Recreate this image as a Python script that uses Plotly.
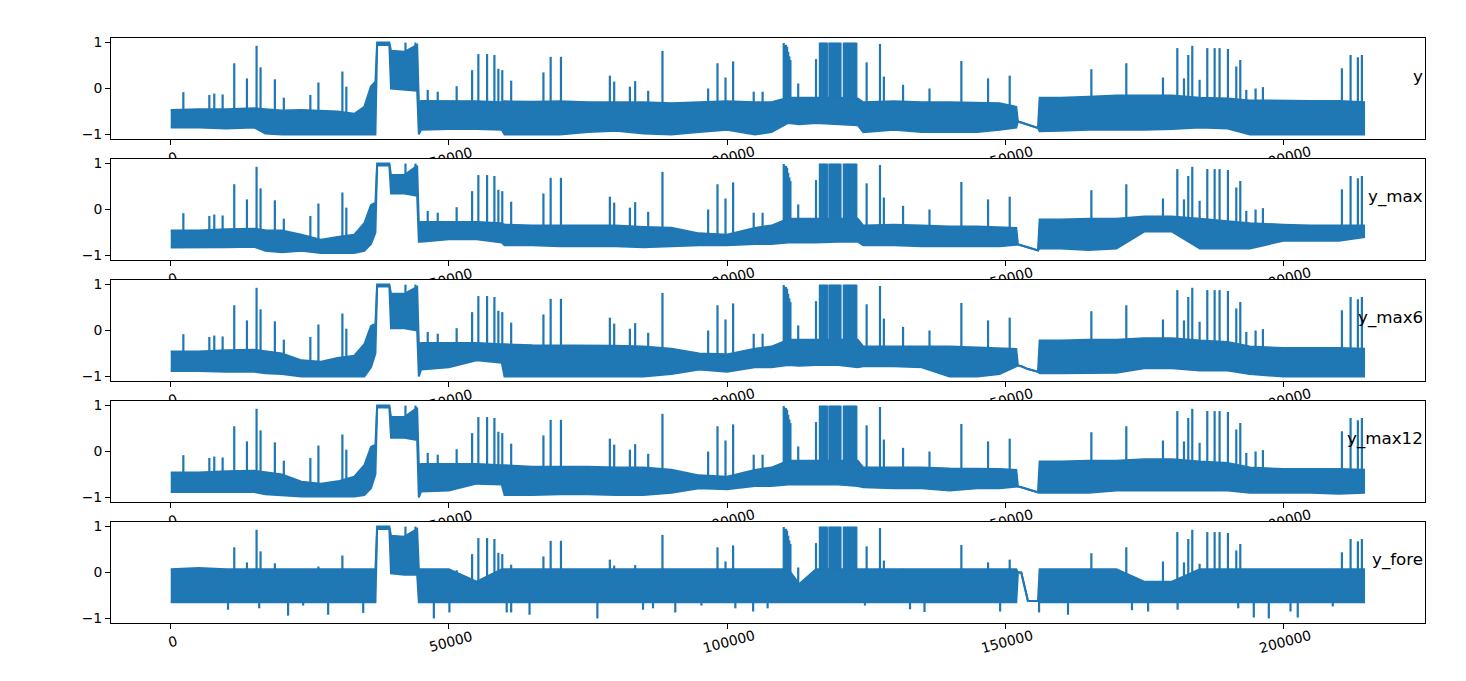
import numpy as np
import plotly.graph_objects as go

# ---------------- data ----------------
names = ["y", "y_max", "y_max6", "y_max12", "y_fore"]

grid_x = [0, 5000, 10000, 15000, 17000, 20000, 23500, 27000, 30000, 33000,
          34800, 36000, 36800, 37100, 39300, 39600, 42000, 44300, 44600, 45000,
          50000, 55000, 59500, 60000, 65000, 70000, 75000, 80000, 85000, 90000,
          95000, 100000, 105000, 108000, 111000, 113000, 116000, 120000, 123500, 124500,
          130000, 135000, 140000, 145000, 149000, 152000, 152300, 152900, 154100, 155900,
          156200, 160000, 165000, 170000, 175000, 180000, 185000, 190000, 194000, 200000,
          205000, 210000, 214700]

# lower / upper envelope of each dense series
y_low = [-0.85, -0.85, -0.87, -0.85, -0.98, -1.0, -1.0, -1.0, -1.0, -1.0,
         -1.0, -1.0, -1.0, 0.95, 0.95, 0.0, -0.02, -0.05, -1.0, -0.9,
         -0.88, -0.88, -0.9, -1.0, -1.0, -1.0, -0.95, -0.92, -0.98, -1.0,
         -0.95, -0.9, -1.0, -0.95, -0.75, -0.78, -0.75, -0.78, -0.8, -0.95,
         -0.9, -0.95, -0.95, -0.95, -0.9, -0.85, -0.72, -0.74, -0.79, -0.86,
         -0.93, -0.92, -0.9, -0.9, -0.9, -0.88, -0.85, -0.87, -1.0, -1.0,
         -1.0, -1.0, -1.0]
y_high = [-0.47, -0.45, -0.45, -0.43, -0.45, -0.48, -0.47, -0.48, -0.5, -0.55,
          -0.4, 0.05, 0.15, 1.0, 1.0, 0.82, 0.8, 0.95, -0.3, -0.27,
          -0.27, -0.28, -0.3, -0.28, -0.29, -0.28, -0.3, -0.3, -0.3, -0.32,
          -0.3, -0.28, -0.3, -0.3, -0.2, -0.2, -0.2, -0.2, -0.22, -0.3,
          -0.28, -0.3, -0.3, -0.32, -0.32, -0.4, -0.72, -0.74, -0.79, -0.86,
          -0.2, -0.2, -0.18, -0.15, -0.15, -0.15, -0.2, -0.22, -0.26, -0.27,
          -0.27, -0.27, -0.3]

y_max_low = [-0.83, -0.83, -0.82, -0.81, -0.9, -0.93, -0.9, -0.95, -0.95, -0.95,
             -0.9, -0.75, -0.5, 0.96, 0.96, 0.35, 0.35, 0.3, -0.7, -0.7,
             -0.65, -0.65, -0.72, -0.78, -0.78, -0.8, -0.8, -0.8, -0.82, -0.8,
             -0.78, -0.78, -0.75, -0.75, -0.72, -0.72, -0.72, -0.7, -0.7, -0.78,
             -0.78, -0.8, -0.8, -0.8, -0.8, -0.77, -0.76, -0.78, -0.83, -0.89,
             -0.85, -0.85, -0.88, -0.85, -0.48, -0.48, -0.85, -0.85, -0.85, -0.68,
             -0.68, -0.68, -0.6]
y_max_high = [-0.46, -0.46, -0.43, -0.42, -0.45, -0.46, -0.55, -0.66, -0.6, -0.55,
              -0.3, 0.1, 0.15, 1.0, 1.0, 0.75, 0.75, 0.95, -0.3, -0.27,
              -0.27, -0.27, -0.3, -0.33, -0.35, -0.35, -0.35, -0.35, -0.38, -0.4,
              -0.52, -0.55, -0.4, -0.35, -0.2, -0.2, -0.2, -0.2, -0.2, -0.35,
              -0.33, -0.35, -0.37, -0.37, -0.38, -0.4, -0.76, -0.78, -0.83, -0.89,
              -0.22, -0.22, -0.2, -0.2, -0.15, -0.15, -0.2, -0.25, -0.3, -0.33,
              -0.35, -0.35, -0.35]

y_max6_low = [-0.88, -0.88, -0.9, -0.9, -0.93, -0.95, -1.0, -1.0, -1.0, -1.0,
              -1.0, -0.8, -0.5, 0.96, 0.96, 0.05, 0.05, 0.0, -1.0, -0.85,
              -0.8, -0.65, -0.7, -1.0, -1.0, -1.0, -1.0, -1.0, -1.0, -0.95,
              -0.85, -0.9, -0.8, -0.8, -0.75, -0.77, -0.75, -0.75, -0.8, -0.78,
              -0.78, -0.8, -1.0, -1.0, -0.95, -0.78, -0.76, -0.78, -0.84, -0.9,
              -0.93, -0.93, -0.93, -0.92, -0.82, -0.82, -0.87, -0.87, -0.95, -1.0,
              -1.0, -1.0, -1.0]
y_max6_high = [-0.46, -0.46, -0.43, -0.42, -0.45, -0.5, -0.65, -0.68, -0.6, -0.55,
               -0.3, 0.1, 0.15, 1.0, 1.0, 0.8, 0.8, 0.95, -0.3, -0.27,
               -0.27, -0.27, -0.3, -0.3, -0.32, -0.32, -0.33, -0.33, -0.35, -0.4,
               -0.5, -0.52, -0.4, -0.35, -0.2, -0.2, -0.2, -0.2, -0.2, -0.35,
               -0.35, -0.35, -0.35, -0.37, -0.38, -0.4, -0.76, -0.78, -0.84, -0.9,
               -0.22, -0.22, -0.2, -0.2, -0.17, -0.17, -0.22, -0.25, -0.35, -0.38,
               -0.38, -0.38, -0.4]

y_max12_low = [-0.88, -0.88, -0.88, -0.88, -0.93, -0.95, -0.98, -0.98, -0.98, -0.98,
               -0.95, -0.8, -0.5, 0.96, 0.96, 0.3, 0.3, 0.25, -1.0, -0.87,
               -0.85, -0.7, -0.72, -0.95, -0.95, -0.93, -0.93, -0.95, -0.95, -0.9,
               -0.8, -0.82, -0.75, -0.75, -0.72, -0.72, -0.72, -0.72, -0.75, -0.78,
               -0.8, -0.8, -0.85, -0.8, -0.8, -0.77, -0.76, -0.78, -0.83, -0.89,
               -0.9, -0.9, -0.9, -0.85, -0.85, -0.85, -0.85, -0.85, -0.9, -0.9,
               -0.9, -0.92, -0.9]
y_max12_high = [-0.46, -0.46, -0.43, -0.42, -0.45, -0.5, -0.66, -0.7, -0.65, -0.55,
                -0.3, 0.1, 0.15, 1.0, 1.0, 0.75, 0.75, 0.95, -0.3, -0.27,
                -0.27, -0.27, -0.3, -0.3, -0.33, -0.33, -0.33, -0.35, -0.35, -0.4,
                -0.52, -0.55, -0.4, -0.35, -0.2, -0.2, -0.2, -0.2, -0.2, -0.35,
                -0.35, -0.35, -0.37, -0.37, -0.38, -0.4, -0.76, -0.78, -0.83, -0.89,
                -0.22, -0.22, -0.2, -0.2, -0.17, -0.17, -0.22, -0.25, -0.35, -0.38,
                -0.38, -0.38, -0.4]

y_fore_low = [-0.65, -0.65, -0.65, -0.65, -0.65, -0.65, -0.65, -0.65, -0.65, -0.65,
              -0.65, -0.65, -0.65, 0.95, 0.95, -0.02, -0.05, -0.05, -0.65, -0.65,
              -0.65, -0.65, -0.65, -0.65, -0.65, -0.65, -0.65, -0.65, -0.65, -0.65,
              -0.65, -0.65, -0.65, -0.65, -0.65, -0.65, -0.65, -0.65, -0.65, -0.65,
              -0.65, -0.65, -0.65, -0.65, -0.65, -0.65, 0.0, 0.0, -0.62, -0.62,
              -0.65, -0.65, -0.65, -0.65, -0.65, -0.65, -0.65, -0.65, -0.65, -0.65,
              -0.65, -0.65, -0.65]
y_fore_high = [0.07, 0.1, 0.07, 0.07, 0.07, 0.07, 0.07, 0.07, 0.07, 0.07,
               0.07, 0.07, 0.07, 1.0, 1.0, 0.8, 0.78, 0.95, 0.07, 0.07,
               0.07, -0.2, 0.07, 0.07, 0.07, 0.07, 0.07, 0.07, 0.07, 0.07,
               0.07, 0.07, 0.07, 0.07, 0.07, -0.25, 0.07, 0.07, 0.07, 0.07,
               0.07, 0.07, 0.07, 0.07, 0.07, 0.07, 0.0, 0.0, -0.62, -0.62,
               0.07, 0.07, 0.07, 0.07, -0.2, -0.2, 0.07, 0.07, 0.07, 0.07,
               0.07, 0.07, 0.07]

# isolated upward spikes (shared by the five series)
spike_x = [2270, 6940, 7830, 9330, 11420, 13700, 15430, 16150, 18720, 20330,
           25100, 26550, 30860, 31570, 42200, 44000, 46200, 48000, 51400, 54180,
           55300, 56870, 58190, 58900, 59600, 61200, 67000, 68300, 70150, 78940,
           79720, 82540, 83490, 85830, 88400, 96610, 98290, 99730, 101100, 104800,
           106400, 110200, 110400, 110600, 110800, 111000, 111200, 111400, 112800, 116000,
           116700, 116950, 117200, 117450, 117700, 117950,
           118400, 118650, 118900, 119150, 119400, 119650, 119900, 120150, 120400,
           121000, 121250, 121500, 121750, 122000, 122250, 122500, 122750, 123000, 123250,
           125100, 127500, 128200, 131650, 136400, 142130, 146930, 150820, 165500, 171780,
           178370, 180950, 182150, 182920, 183640, 184960, 186340, 187660, 188550, 190050,
           191550, 192270, 193350, 195020, 196340, 210540, 212100, 213410, 214130]
spike_top = [-0.08, -0.14, -0.11, -0.13, 0.55, 0.22, 0.93, 0.46, 0.2, -0.2,
             -0.14, 0.13, 0.37, 0.04, 1.0, 1.0, -0.03, -0.07, 0.05, 0.4,
             0.75, 0.75, 0.73, 0.43, 0.4, 0.17, 0.35, 0.69, 0.69, 0.28,
             0.15, 0.04, 0.16, -0.05, 0.82, 0.0, 0.55, 0.24, 0.59, -0.07,
             -0.07, 0.99, 0.95, 0.95, 0.91, 0.8, 0.7, 0.62, 0.11, 0.64,
             1.0, 1.0, 1.0, 1.0, 1.0, 1.0,
             1.0, 1.0, 1.0, 1.0, 1.0, 1.0, 1.0, 1.0, 1.0,
             1.0, 1.0, 1.0, 1.0, 1.0, 1.0, 1.0, 1.0, 1.0, 1.0,
             0.57, 0.97, 0.26, 0.08, 0.0, 0.6, 0.22, 0.28, 0.42, 0.55,
             0.24, 0.88, 0.22, 0.73, 0.93, 0.19, 0.88, 0.88, 0.88, 0.86,
             0.48, 0.62, -0.03, 0.0, 0.03, 0.44, 0.73, 0.68, 0.73]

# downward dips of y_fore
fore_dip_x = [10300, 15900, 21100, 23800, 28300, 34600, 47300, 50100, 60400, 61200,
              64500, 76700, 84900, 86700, 90700, 95400, 101500, 104700, 107300, 124800,
              132900, 135500, 149100, 156100, 161300, 172800, 175700, 181000, 191900, 194700,
              197400, 201300, 202600, 208900]
fore_dip_y = [-0.81, -0.78, -0.94, -0.72, -0.92, -0.88, -1.0, -0.87, -0.87, -0.87,
              -0.92, -1.0, -0.81, -0.78, -0.87, -0.72, -0.78, -0.85, -0.78, -0.72,
              -0.8, -0.86, -0.85, -0.87, -0.92, -0.82, -0.85, -0.81, -0.78, -0.98,
              -1.0, -0.85, -0.98, -0.74]

x_tick_vals = [0, 50000, 100000, 150000, 200000]
x_tick_text = ["0", "50000", "100000", "150000", "200000"]
y_tick_vals = [-1, 0, 1]

lows = [y_low, y_max_low, y_max6_low, y_max12_low, y_fore_low]
highs = [y_high, y_max_high, y_max6_high, y_max12_high, y_fore_high]

# ---------------- styling / layout ----------------
C = "#1f77b4"
FONT = "DejaVu Sans"
W, H = 1466, 681
ml, mr, mt, mb = 111, 41, 38, 58
ph = H - mt - mb
tops = [38, 159, 280, 401, 522]
sub_h = 101
tick_fs = 13.9

# centre the rotated tick labels under their ticks (plotly anchors them at the end)
digit_w = 0.636 * tick_fs
nbsp_w = 0.318 * tick_fs
max_d = max(len(t) for t in x_tick_text) * digit_w
shift = int(round(max_d / 2))
tick_labels = []
for t in x_tick_text:
    d = len(t) * digit_w
    trail = int(round((shift - d / 2) / nbsp_w))
    lead = max(0, int(round((shift + max_d / 2 - d - trail * nbsp_w) / nbsp_w)))
    tick_labels.append("\u00a0" * lead + t + "\u00a0" * trail)

fig = go.Figure()
layout_axes = {}
annotations = []
shapes = []
for i, name in enumerate(names):
    k = "" if i == 0 else str(i + 1)
    xa, ya = "x" + k, "y" + k
    lo, hi = lows[i], highs[i]
    fig.add_trace(go.Scatter(x=grid_x, y=lo, mode="lines", line=dict(color=C, width=2),
                             xaxis=xa, yaxis=ya, hoverinfo="skip", showlegend=False))
    fig.add_trace(go.Scatter(x=grid_x, y=hi, mode="lines", line=dict(color=C, width=2),
                             fill="tonexty", fillcolor=C,
                             xaxis=xa, yaxis=ya, hoverinfo="skip", showlegend=False))
    base = np.interp(spike_x, grid_x, hi)
    sx, sy = [], []
    for xv, b, t in zip(spike_x, base, spike_top):
        if t > b:
            sx += [xv, xv, None]
            sy += [float(b), t, None]
    if name == "y_fore":
        dbase = np.interp(fore_dip_x, grid_x, lo)
        for xv, b, t in zip(fore_dip_x, dbase, fore_dip_y):
            sx += [xv, xv, None]
            sy += [float(b), t, None]
    fig.add_trace(go.Scatter(x=sx, y=sy, mode="lines", line=dict(color=C, width=2.2),
                             xaxis=xa, yaxis=ya, hoverinfo="skip", showlegend=False))

    top = tops[i]
    d0 = max(0.0, (H - mb - (top + sub_h)) / ph)
    d1 = min(1.0, (H - mb - top) / ph)
    xr = [-10737, 225477]
    yr = [-1.1, 1.1]
    layout_axes["xaxis" + k] = dict(
        domain=[0, 1], range=xr, anchor=ya,
        tickmode="array", tickvals=x_tick_vals, ticktext=tick_labels,
        tickangle=-15, ticklabelshift=shift, ticklabelstandoff=-6,
        ticks="outside", ticklen=5, tickwidth=1, tickcolor="black",
        showline=True, mirror=True, linecolor="black", linewidth=1,
        showgrid=False, zeroline=False,
        tickfont=dict(family=FONT, size=tick_fs, color="black"))
    layout_axes["yaxis" + k] = dict(
        domain=[d0, d1], range=yr, anchor=xa,
        tickmode="array", tickvals=y_tick_vals,
        ticks="outside", ticklen=5, tickwidth=1, tickcolor="black",
        showline=True, mirror=True, linecolor="black", linewidth=1,
        showgrid=False, zeroline=False,
        tickfont=dict(family=FONT, size=tick_fs, color="black"))
    annotations.append(dict(text=name, xref="paper", yref="paper", x=1.0,
                            y=(d0 + d1) / 2, xanchor="right", yanchor="middle",
                            yshift=13, showarrow=False,
                            font=dict(family=FONT, size=16.7, color="black")))
    if i > 0:
        # opaque axes background: hides the tick labels of the panel above
        shapes.append(dict(type="rect", xref=xa, yref=ya, layer="below",
                           x0=xr[0], x1=xr[1], y0=yr[0], y1=yr[1],
                           fillcolor="white", line=dict(width=0)))

fig.update_layout(
    width=W, height=H, margin=dict(l=ml, r=mr, t=mt, b=mb),
    paper_bgcolor="white", plot_bgcolor="white",
    showlegend=False, annotations=annotations, shapes=shapes,
    font=dict(family=FONT, color="black"),
    **layout_axes)

fig.write_html("out.html", config={"displayModeBar": False},
               post_script="document.body.style.margin='0';document.body.style.padding='0';")
